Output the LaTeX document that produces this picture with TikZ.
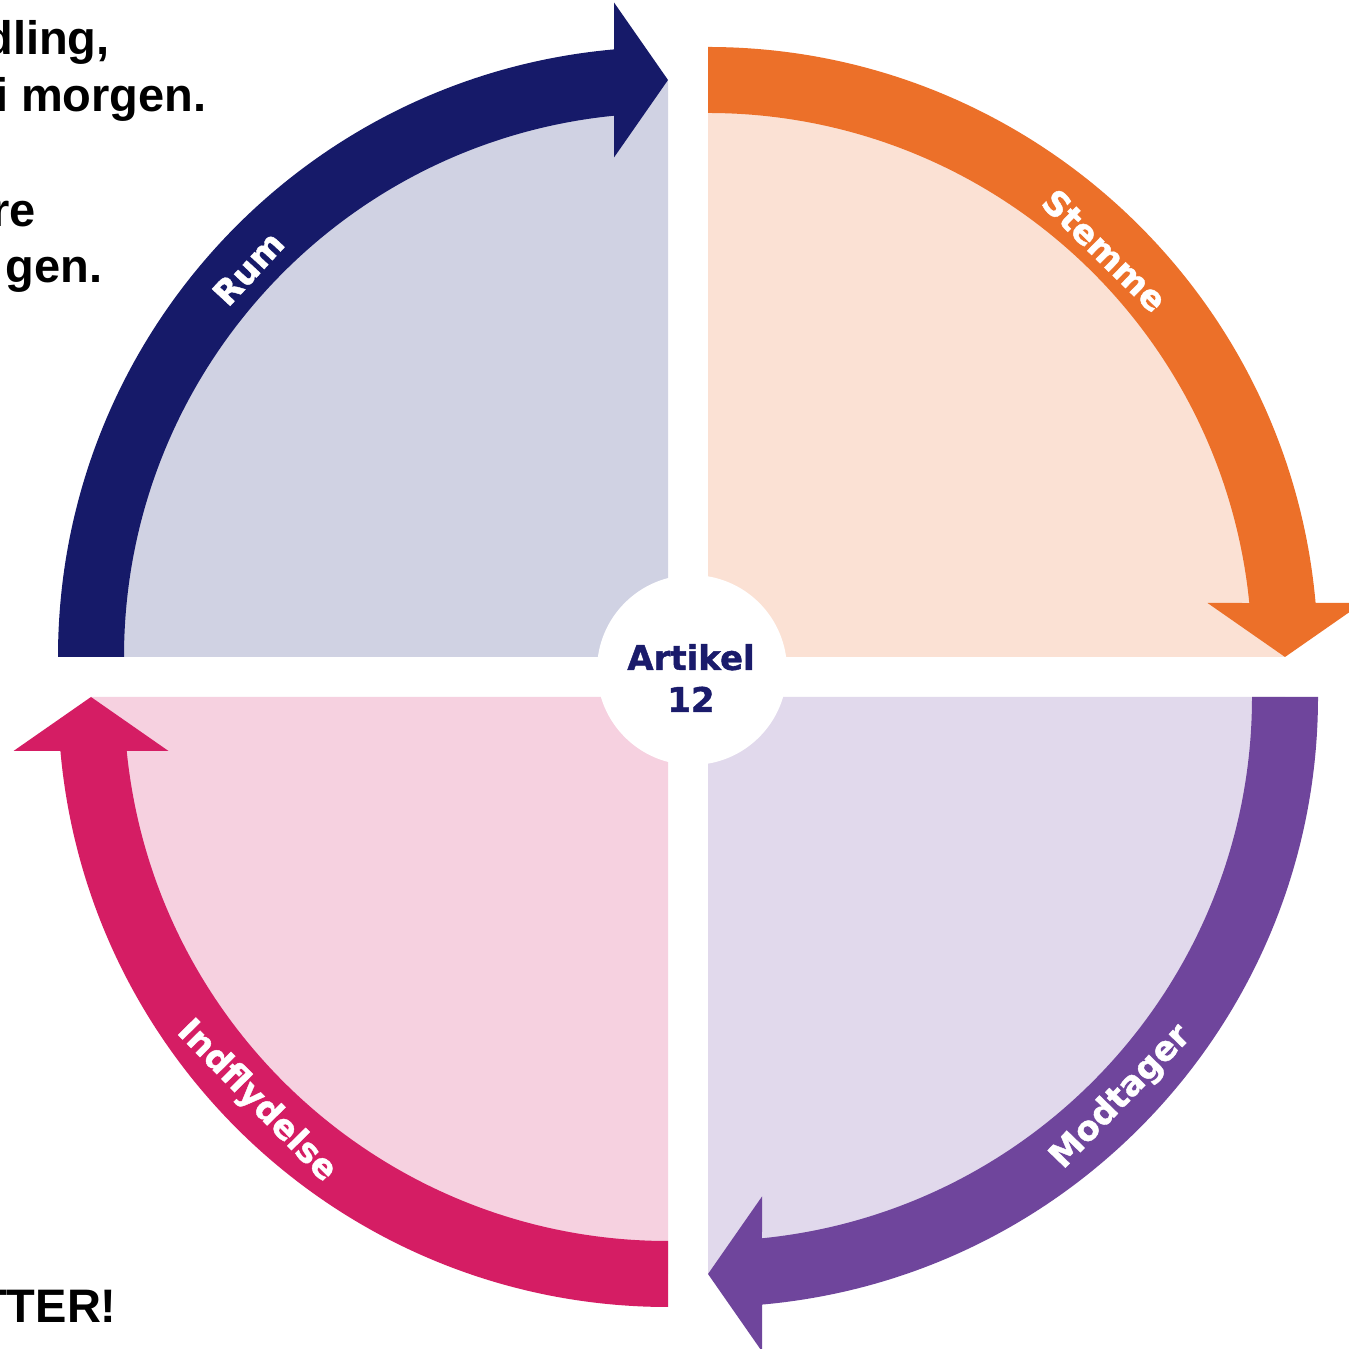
\documentclass[tikz,border=0pt]{standalone}
\usepackage{fontspec}
\usetikzlibrary{calc}
\newfontfamily\arialfont{Liberation Sans}
\newfontfamily\heavyfont{DejaVu Sans Bold}[FakeBold=1.2]
\definecolor{rumband}{HTML}{161A69}
\definecolor{rumfill}{HTML}{D0D2E3}
\definecolor{stemband}{HTML}{EC7029}
\definecolor{stemfill}{HTML}{FBE1D4}
\definecolor{modband}{HTML}{6F459C}
\definecolor{modfill}{HTML}{E1D9EC}
\definecolor{indband}{HTML}{D51D64}
\definecolor{indfill}{HTML}{F6D1E0}
\definecolor{centertext}{HTML}{1A1B6B}
\begin{document}
\begin{tikzpicture}[x=0.5pt,y=0.5pt,
  lbl/.style={text=white, font=\heavyfont\fontsize{17}{17}\selectfont, inner sep=0pt},
  side/.style={font=\arialfont\bfseries\fontsize{23.5}{23.5}\selectfont, anchor=base east, inner sep=0pt, text=black},
  quarterfill/.style={fill=#1},
  bandarrow/.style={fill=#1}]
\useasboundingbox (0,0) rectangle (1349,1349);
\clip (0,0) rectangle (1349,1349);
\fill[white] (0,0) rectangle (1349,1349);
% local quadrant shape (top-left orientation), rotated for each quadrant
\def\quadfill{(0,0) -- (180:577) arc[start angle=180,end angle=90,radius=577] -- cycle}
\def\quadband{(180:610) arc[start angle=180,end angle=95.079,radius=610] -- (-54,654.5) -- (0,577) -- (-54,499.5) -- (95.697:544) arc[start angle=95.697,end angle=180,radius=544] -- cycle}
% Rum (top-left)
\begin{scope}[shift={(668,692)}]
  \fill[quarterfill=rumfill] \quadfill;
  \fill[bandarrow=rumband] \quadband;
\end{scope}
% Stemme (top-right)
\begin{scope}[shift={(708,692)},rotate=-90]
  \fill[quarterfill=stemfill] \quadfill;
  \fill[bandarrow=stemband] \quadband;
\end{scope}
% Modtager (bottom-right)
\begin{scope}[shift={(708,652)},rotate=180]
  \fill[quarterfill=modfill] \quadfill;
  \fill[bandarrow=modband] \quadband;
\end{scope}
% Indflydelse (bottom-left)
\begin{scope}[shift={(668,652)},rotate=90]
  \fill[quarterfill=indfill] \quadfill;
  \fill[bandarrow=indband] \quadband;
\end{scope}
% centre
\node[circle, fill=white, minimum size=95pt, inner sep=0pt] (hub) at (692,679) {};
\node[font=\heavyfont\fontsize{17}{21}\selectfont, text=centertext, align=center, inner sep=0pt] (artikel) at (691,671) {Artikel\\12};
% band labels
\node[lbl, rotate=47.2] (rum) at ($(668,692)+(137.2:572)$) {Rum};
\node[lbl, rotate=-44.3] (stemme) at ($(708,692)+(45.7:568)$) {Stemme};
\node[lbl, rotate=45.9] (modtager) at ($(708,652)+(-44.1:575)$) {Modtager};
\node[lbl, rotate=-45.5] (indflydelse) at ($(668,652)+(224.5:577)$) {Indflydelse};
% cut-off side text
\node[side] (t1) at (110,1294) {dling,};
\node[side] (t2) at (207,1237) {i morgen.};
\node[side] (t3) at (36,1122) {re};
\node[side] (t4) at (103,1066) {gen.};
\node[side] (t5) at (117,26) {TTER!};
\end{tikzpicture}
\end{document}
